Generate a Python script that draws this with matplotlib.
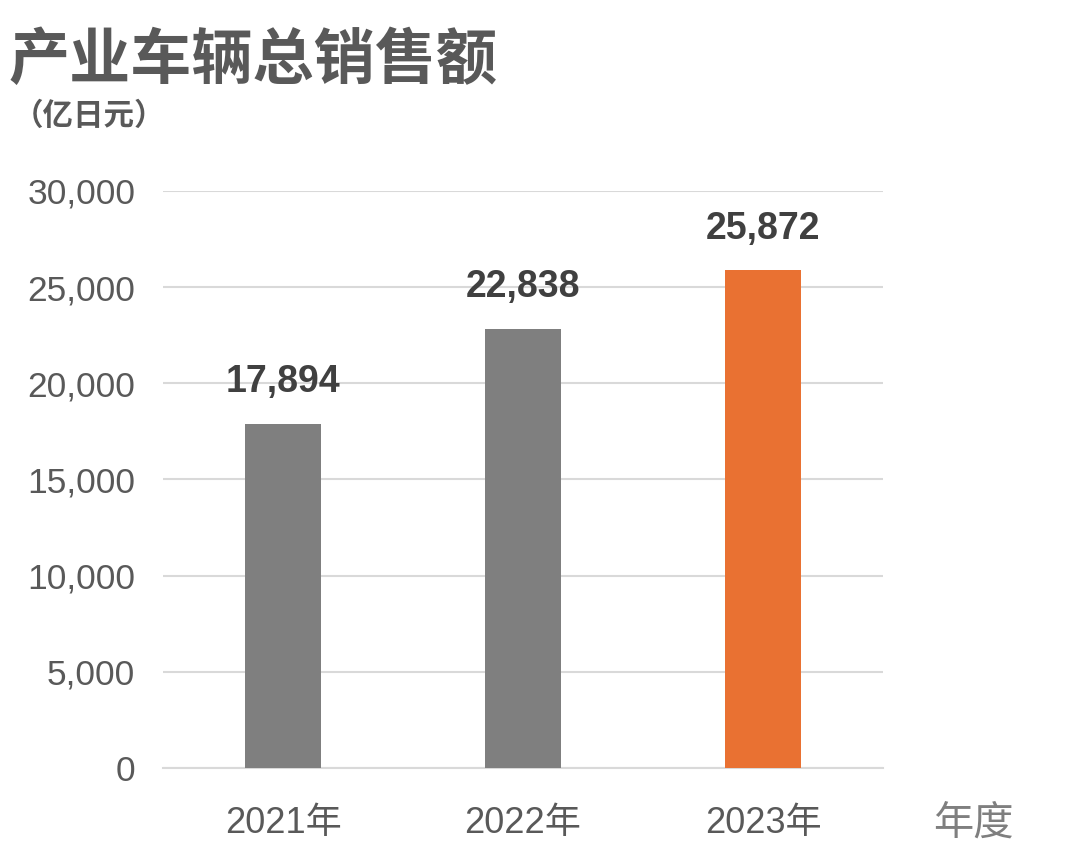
import matplotlib
matplotlib.use("Agg")
import matplotlib.pyplot as plt

plt.rcParams['font.family'] = ['Liberation Sans', 'Noto Sans CJK SC', 'DejaVu Sans']

# data
years = ['2021年', '2022年', '2023年']
sales = [17894, 22838, 25872]
bar_colors = ['#7f7f7f', '#7f7f7f', '#e97132']
y_ticks = [0, 5000, 10000, 15000, 20000, 25000, 30000]

fig = plt.figure(figsize=(10.8, 8.68), dpi=100)
ax = fig.add_axes([0.151, 0.1152, 0.6666, 0.6648])

x = list(range(len(years)))
bars = ax.bar(x, sales, width=0.32, color=bar_colors, zorder=3)

for xi, v in zip(x, sales):
    ax.annotate(f"{v:,}", (xi, v), xytext=(0, 17), textcoords='offset points',
                ha='center', va='bottom', fontsize=27, fontweight='bold', color='#404040')

ax.set_xlim(-0.5, 2.5)
ax.set_ylim(0, 30000)
ax.set_yticks(y_ticks)
ax.set_yticklabels([f"{t:,}" for t in y_ticks])
ax.set_xticks(x)
ax.set_xticklabels(years)
ax.tick_params(axis='y', length=0, pad=20, labelsize=25.5, labelcolor='#595959')
ax.tick_params(axis='x', length=0, pad=27, labelsize=26, labelcolor='#595959')
ax.grid(axis='y', color='#d9d9d9', linewidth=1.5, zorder=0)
for s in ['top', 'right', 'left']:
    ax.spines[s].set_visible(False)
ax.spines['bottom'].set_color('#d9d9d9')
ax.spines['bottom'].set_linewidth(1.5)

fig.text(0.008, 0.93, '产业车辆总销售额', fontsize=44, fontweight='bold',
         color='#595959', va='center', ha='left', family=['Noto Sans CJK SC'])
fig.text(0.012, 0.866, '（亿日元）', fontsize=22, fontweight='bold',
         color='#595959', va='center', ha='left', family=['Noto Sans CJK SC'])
fig.text(0.901, 0.052, '年度', fontsize=29, color='#7f7f7f',
         va='center', ha='center', family=['Noto Sans CJK SC'])

fig.savefig('out.png', dpi=100, facecolor='white')
